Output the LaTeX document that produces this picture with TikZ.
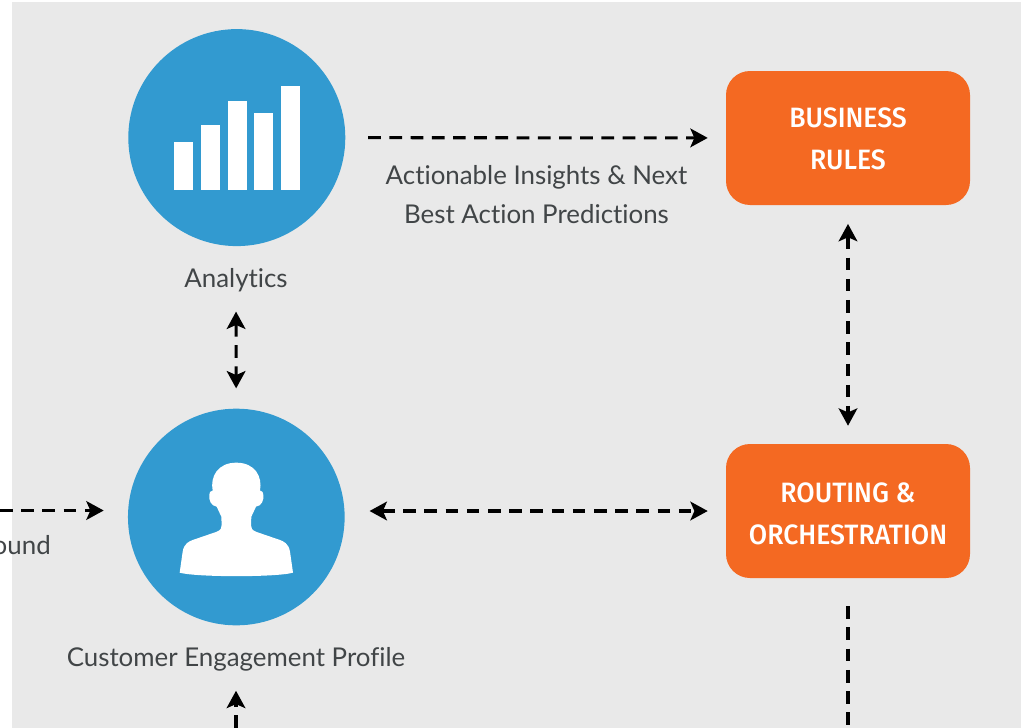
\documentclass[tikz,border=0pt]{standalone}
\usepackage{fontspec}
\setmainfont{Lato}[Ligatures={NoCommon}]
\newfontfamily\headfont{Fira Sans}[BoldFont={Fira Sans Medium}]
\usetikzlibrary{arrows.meta}
\definecolor{panel}{HTML}{E9E9E9}
\definecolor{bluefill}{HTML}{329AD0}
\definecolor{orangefill}{HTML}{F46922}
\definecolor{textgrey}{HTML}{414547}
\tikzset{
  circlenode/.style={circle,fill=bluefill,minimum size=162.5pt,inner sep=0pt,draw=none},
  boxnode/.style={rounded corners=18pt,fill=orangefill,minimum width=183pt,minimum height=100.5pt,inner sep=0pt,draw=none},
  boxtext/.style={text=white,font=\headfont\fontsize{21pt}{31.5pt}\selectfont,align=center,anchor=center,inner sep=0pt,xscale=0.95},
  caption/.style={text=textgrey,font=\fontsize{19.4pt}{29.2pt}\selectfont,align=center,inner sep=0pt},
  flow/.style={draw=black,line width=2.3pt,dash pattern=on 9.5pt off 6.4pt},
  headtip/.style={-{Stealth[length=13pt,width=14pt,inset=3pt]}},
  bothtips/.style={{Stealth[length=13pt,width=14pt,inset=3pt]}-{Stealth[length=13pt,width=14pt,inset=3pt]}},
}
\begin{document}
\begin{tikzpicture}[x=0.75pt,y=-0.75pt]
\useasboundingbox (0,0) rectangle (1021,728);
\fill[white] (0,0) rectangle (1021,728);
\fill[panel] (12,2) rectangle (1021,728);
\node[circlenode,minimum size=162.75pt] (analytics) at (236.8,137.6) {};
\node[circlenode] (cep) at (236.3,517) {};
\node[boxnode] (rules) at (848,138) {};
\node[boxnode] (routing) at (848,511) {};
\node[boxtext] (rulestext) at (848,138.5) {\textbf{BUSINESS}\\\textbf{RULES}};
\node[boxtext] (routingtext) at (848,513.5) {\textbf{ROUTING \&}\\\textbf{ORCHESTRATION}};
\node[caption] (analyticslabel) at (236,280) {Analytics};
\node[caption] (ceplabel) at (236,659) {Customer Engagement Profile};
\node[caption] (insights) at (536.5,195) {Actionable Insights \& Next\\Best Action Predictions};
\node[caption,anchor=east] (inbound) at (51,545) {ound};
\coordinate (leftend) at (0,510.5);
\coordinate (bottomleft) at (236,728);
\coordinate (bottomright) at (848,728);
% bars
\begin{scope}[shift={(120,20)},x=0.25pt,y=-0.25pt]
\fill[white] (162,366) rectangle (219,510);
\fill[white] (243,315) rectangle (300,510);
\fill[white] (324,243) rectangle (381,510);
\fill[white] (402,279) rectangle (459,510);
\fill[white] (483,198) rectangle (540,510);
\end{scope}
% person
\begin{scope}[shift={(120,400)},x=0.25pt,y=-0.25pt]
\fill[white] (179,518) .. controls (230,532) and (470,532) .. (519,518)
 -- (510,455) .. controls (506,430) and (490,424) .. (480,420)
 -- (410,396) .. controls (395,390) and (393,385) .. (393,375)
 -- (394,350) -- (408,320)
 .. controls (425,318) and (432,300) .. (430,285)
 .. controls (429,275) and (425,272) .. (420,272)
 .. controls (428,230) and (405,188) .. (349,188)
 .. controls (293,188) and (270,230) .. (278,272)
 .. controls (273,272) and (269,275) .. (268,285)
 .. controls (266,300) and (273,318) .. (290,320)
 -- (304,350) -- (305,375)
 .. controls (305,385) and (303,390) .. (288,396)
 -- (218,420) .. controls (208,424) and (192,430) .. (188,455) -- cycle;
\end{scope}
% connectors
\draw[flow,headtip,shorten <=17pt,shorten >=13.5pt] (analytics) -- (rules);
\draw[flow,bothtips,shorten <=14pt,shorten >=13.5pt] (rules) -- (routing);
\draw[flow,bothtips,shorten <=14.7pt,shorten >=15pt] (analyticslabel) -- (cep);
\draw[flow,bothtips,shorten <=18.5pt,shorten >=13.5pt] (routing.west -| cep.east) -- (routing.west);
\draw[flow,headtip,shorten >=18pt] (leftend) -- (leftend -| cep.west);
\draw[flow,headtip,shorten >=14.7pt] (bottomleft) -- (ceplabel);
\draw[flow,shorten <=21pt] (routing) -- (bottomright);
\end{tikzpicture}
\end{document}
